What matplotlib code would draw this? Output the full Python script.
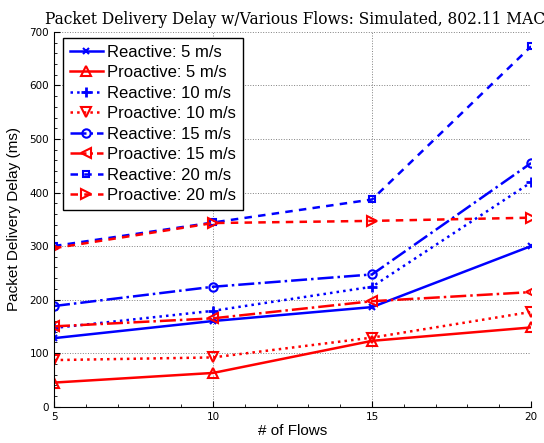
import matplotlib.pyplot as plt
from matplotlib.ticker import AutoMinorLocator

# Data
flows = [5, 10, 15, 20]
reactive_5 = [128, 160, 186, 300]
proactive_5 = [45, 63, 123, 148]
reactive_10 = [147, 179, 224, 419]
proactive_10 = [87, 92, 129, 177]
reactive_15 = [188, 224, 247, 455]
proactive_15 = [150, 165, 197, 214]
reactive_20 = [300, 344, 387, 673]
proactive_20 = [296, 343, 347, 353]

fig = plt.figure(figsize=(5.44, 4.43), dpi=100)
ax = fig.add_axes([0.0993, 0.082, 0.877, 0.846])

lw = 1.8
ax.plot(flows, reactive_5, color='blue', ls='-', lw=lw, marker='x', ms=4, mew=1.5, label='Reactive: 5 m/s')
ax.plot(flows, proactive_5, color='red', ls='-', lw=lw, marker='^', ms=7, mew=1.5, fillstyle='none', label='Proactive: 5 m/s')
ax.plot(flows, reactive_10, color='blue', ls=':', lw=lw, marker='+', ms=7, mew=2, label='Reactive: 10 m/s')
ax.plot(flows, proactive_10, color='red', ls=':', lw=lw, marker='v', ms=7, mew=1.5, fillstyle='none', label='Proactive: 10 m/s')
ax.plot(flows, reactive_15, color='blue', ls='-.', lw=lw, marker='o', ms=6, mew=1.5, fillstyle='none', label='Reactive: 15 m/s')
ax.plot(flows, proactive_15, color='red', ls='-.', lw=lw, marker='<', ms=7, mew=1.5, fillstyle='none', label='Proactive: 15 m/s')
ax.plot(flows, reactive_20, color='blue', ls=(0, (3, 2.5)), lw=lw, marker='s', ms=5, mew=1.5, fillstyle='none', label='Reactive: 20 m/s')
ax.plot(flows, proactive_20, color='red', ls=(0, (3, 2.5)), lw=lw, marker='>', ms=7, mew=1.5, fillstyle='none', label='Proactive: 20 m/s')

ax.set_xlim(5, 20)
ax.set_ylim(0, 700)
ax.set_xticks(flows)
ax.set_yticks(range(0, 701, 100))
ax.xaxis.set_minor_locator(AutoMinorLocator(5))
ax.yaxis.set_minor_locator(AutoMinorLocator(5))
ax.tick_params(which='both', direction='in', labelsize=7.5, top=False, right=False)
ax.tick_params(which='major', length=4)
ax.tick_params(which='minor', length=2)
ax.spines['top'].set_visible(False)
ax.spines['right'].set_visible(False)
ax.grid(True, which='major', color='gray', ls=':', lw=0.7)

ax.set_xlabel('# of Flows', fontsize=11, family='Liberation Sans', labelpad=2)
ax.set_ylabel('Packet Delivery Delay (ms)', fontsize=11, family='Liberation Sans', labelpad=6)
ax.set_title('Packet Delivery Delay w/Various Flows: Simulated, 802.11 MAC',
             fontsize=11.2, family='DejaVu Serif', pad=6, x=0.505)

leg = ax.legend(loc='upper left', bbox_to_anchor=(0.019, 0.984), borderaxespad=0,
                prop={'family': 'Liberation Sans', 'size': 12},
                fancybox=False, edgecolor='black', framealpha=1,
                handlelength=2.0, labelspacing=0.33, borderpad=0.4, handletextpad=0.25)
leg.get_frame().set_linewidth(1.0)

fig.savefig('out.png', dpi=100)
